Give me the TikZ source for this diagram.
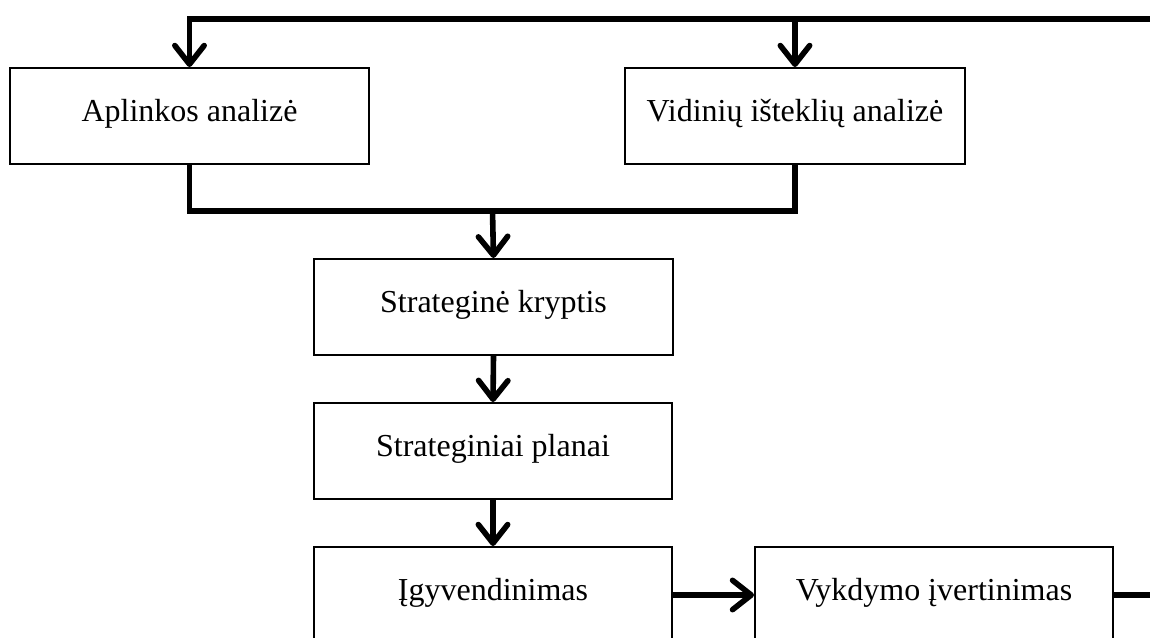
\documentclass[tikz,border=0pt]{standalone}
\usepackage{fontspec}
\setmainfont{Liberation Serif}
\usetikzlibrary{arrows.meta}

\tikzset{
  stagebox/.style={draw, line width=1.5pt, inner xsep=0pt, inner ysep=0pt,
    text height=39.75pt, text depth=32.25pt, anchor=north west,
    font=\fontsize{24}{28}\selectfont},
  flow/.style={line width=4.2pt},
  flowarrow/.style={flow, -{Straight Barb[length=14pt,width=22pt,round]}}
}

\begin{document}
\begin{tikzpicture}[x=0.75pt, y=-0.75pt]
  \useasboundingbox (0,0) rectangle (1150,637);
  \clip (0,0) rectangle (1150,637);

  % analysis stages
  \node[stagebox, minimum width=359*0.75pt] (apl) at (9,67) {Aplinkos analizė};
  \node[stagebox, minimum width=340*0.75pt] (vid) at (624,67) {Vidinių išteklių analizė};

  % strategy chain
  \node[stagebox, minimum width=359*0.75pt] (kry) at (313,258) {Strateginė kryptis};
  \node[stagebox, minimum width=358*0.75pt] (pla) at (313,402) {Strateginiai planai};
  \node[stagebox, minimum width=358*0.75pt] (igy) at (313,546) {Įgyvendinimas};
  \node[stagebox, minimum width=358*0.75pt] (vyk) at (754,546) {Vykdymo įvertinimas};

  % routing points
  \coordinate (loop) at (1180,19);
  \coordinate (join) at (492.5,211);

  % feedback loop back to the analyses
  \draw[flowarrow] (vyk.east) -| (loop) -| (apl.north);
  \draw[flowarrow] (vid.north |- loop) -- (vid.north);

  % merging the analyses
  \draw[flow] (apl.south) |- (join) -| (vid.south);
  \draw[flowarrow] (join) -- (kry.north);

  % main sequence
  \draw[flowarrow] (kry.south) -- (pla.north);
  \draw[flowarrow] (pla.south) -- (igy.north);
  \draw[flowarrow] (igy.east) -- (vyk.west);
\end{tikzpicture}
\end{document}
